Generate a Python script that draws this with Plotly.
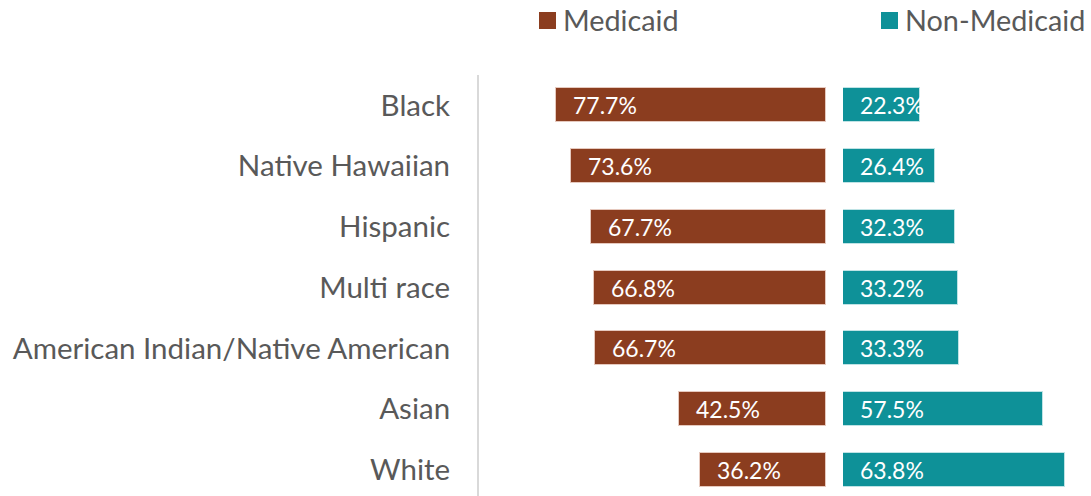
import plotly.graph_objects as go

# Share of births by payer, by race/ethnicity
groups = ["Black", "Native Hawaiian", "Hispanic", "Multi race",
          "American Indian/Native American", "Asian", "White"]
medicaid = [77.7, 73.6, 67.7, 66.8, 66.7, 42.5, 36.2]
non_medicaid = [22.3, 26.4, 32.3, 33.2, 33.3, 57.5, 63.8]

MED_COLOR = "#8B3D1F"
NON_COLOR = "#0E9198"
TEXT_GRAY = "#595959"
FONT = "Lato"

fig = go.Figure()

fig.add_trace(go.Bar(
    y=groups, x=medicaid, orientation="h", name="Medicaid",
    marker=dict(color=MED_COLOR, line=dict(color="#E6C9BE", width=1)),
    width=0.56, xaxis="x", yaxis="y", showlegend=False, hoverinfo="x+y",
))
fig.add_trace(go.Bar(
    y=groups, x=non_medicaid, orientation="h", name="Non-Medicaid",
    marker=dict(color=NON_COLOR, line=dict(color="#BFE3E5", width=1)),
    width=0.56, xaxis="x2", yaxis="y2", showlegend=False, hoverinfo="x+y",
))

annotations = []
for g, m, n in zip(groups, medicaid, non_medicaid):
    annotations.append(dict(
        x=m, y=g, xref="x", yref="y", text=f"{m:.1f}%", showarrow=False,
        xanchor="left", xshift=15, font=dict(family=FONT, size=23, color="white"),
    ))
    annotations.append(dict(
        x=0, y=g, xref="x2", yref="y2", text=f"{n:.1f}%", showarrow=False,
        xanchor="left", xshift=15, font=dict(family=FONT, size=23, color="white"),
    ))

# Legend entries drawn in paper space (square left edge in pixels)
legend_items = [("Medicaid", MED_COLOR, 539), ("Non-Medicaid", NON_COLOR, 881)]
shapes = []
W, H = 1091, 496
L, T = 479, 75
pw, ph = W - L, H - T
for label, color, px in legend_items:
    shapes.append(dict(type="rect", xref="paper", yref="paper",
                       x0=(px - L) / pw, x1=(px + 17 - L) / pw,
                       y0=(H - 29) / ph, y1=(H - 12) / ph,
                       fillcolor=color, line=dict(width=0)))
    annotations.append(dict(
        x=(px + 24 - L) / pw, y=(H - 20) / ph, xref="paper", yref="paper",
        text=label, showarrow=False, xanchor="left", yanchor="middle",
        xshift=-2, font=dict(family=FONT, size=28.8, color=TEXT_GRAY),
    ))

yrange = [6.43, -0.5]
fig.update_layout(
    width=W, height=H,
    margin=dict(l=L, r=0, t=T, b=0),
    paper_bgcolor="white", plot_bgcolor="white",
    font=dict(family=FONT, color=TEXT_GRAY),
    xaxis=dict(domain=[0, 347 / 612], range=[100, 0], visible=False, fixedrange=True),
    xaxis2=dict(domain=[364 / 612, 1], range=[0, 248 / 3.475], visible=False, fixedrange=True),
    yaxis=dict(anchor="x", range=yrange, showline=True, linecolor="#D9D9D9", linewidth=2,
               showgrid=False, zeroline=False, ticks="", ticklabelstandoff=21,
               tickfont=dict(family=FONT, size=29.5, color=TEXT_GRAY)),
    yaxis2=dict(anchor="x2", overlaying="y", range=yrange, visible=False),
    annotations=annotations,
    shapes=shapes,
    bargap=0,
)

fig.write_html("out.html")
